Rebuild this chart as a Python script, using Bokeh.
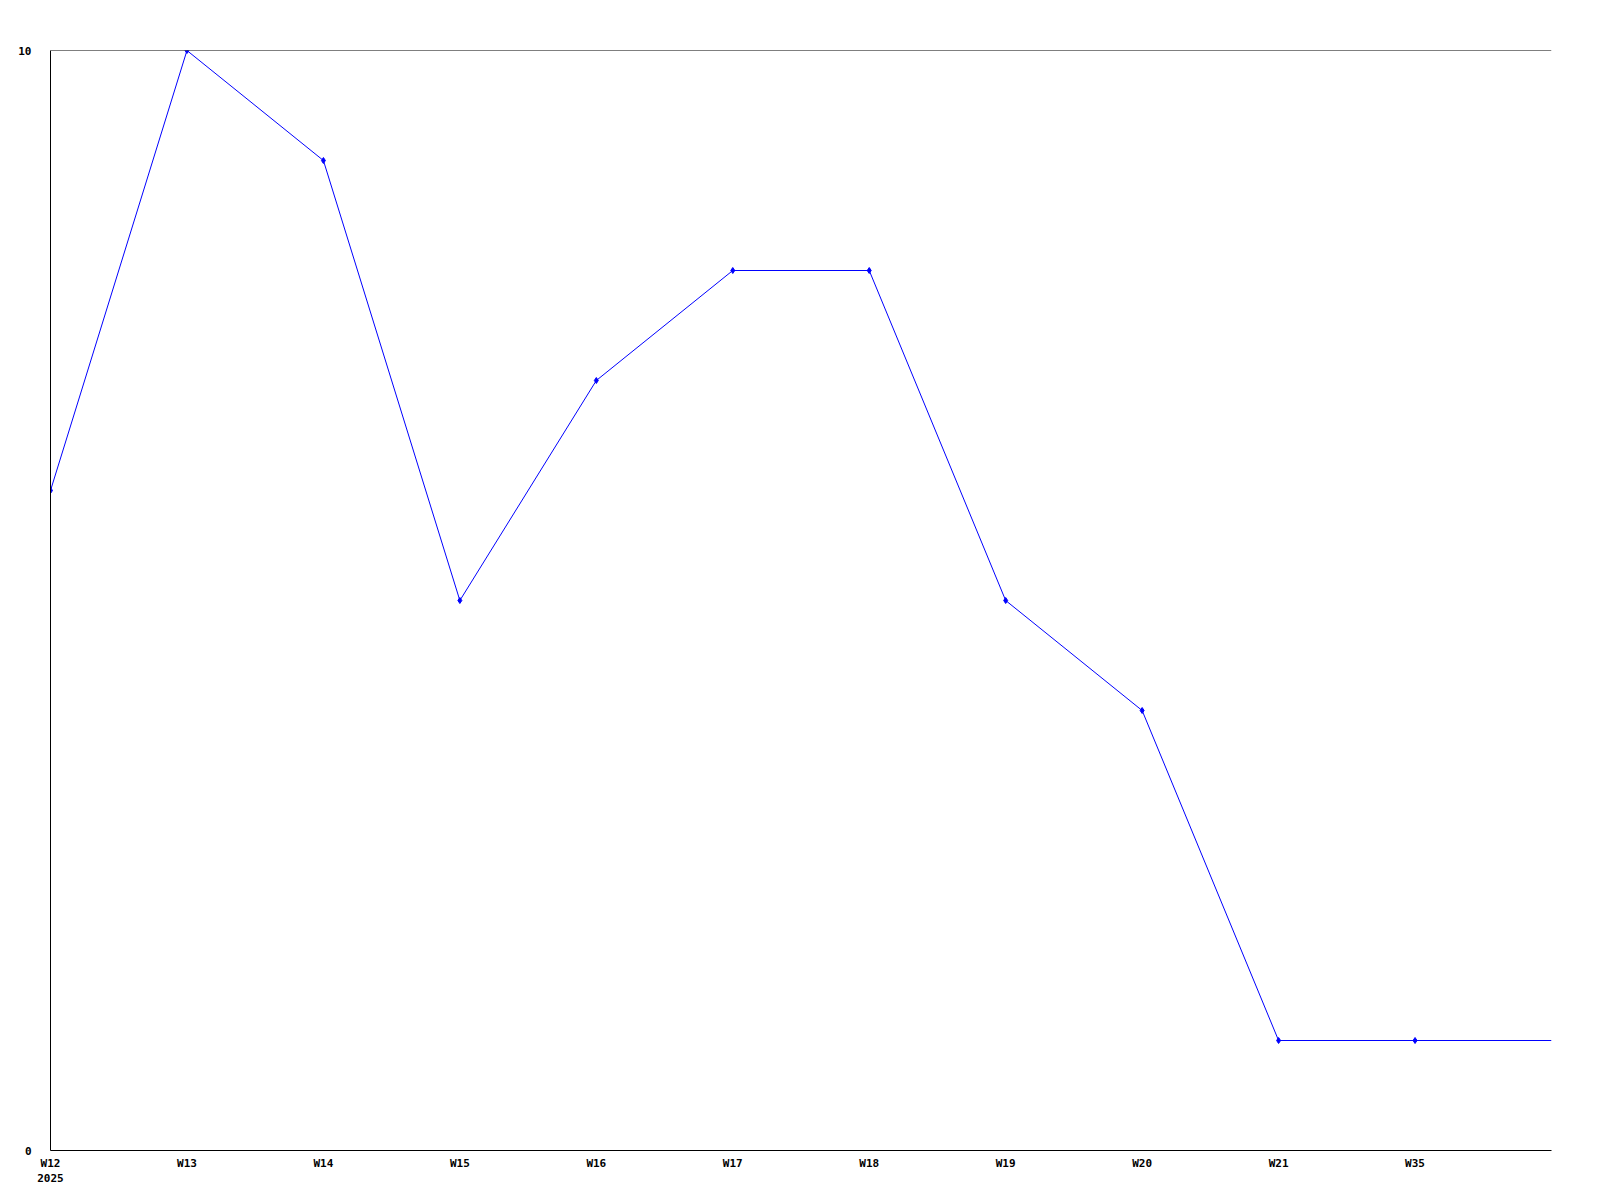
from bokeh.plotting import figure
from bokeh.models import Range1d, Span, FixedTicker
from bokeh.embed import file_html
from bokeh.resources import INLINE

weeks = ["W12\n2025", "W13", "W14", "W15", "W16", "W17", "W18", "W19", "W20", "W21", "W35"]
values = [6, 10, 9, 5, 7, 8, 8, 5, 4, 1, 1]
tail_value = 1  # line continues to the right edge

xs = list(range(len(weeks)))
line_x = xs + [len(weeks)]
line_y = values + [tail_value]

p = figure(width=1584, height=1194, output_backend="svg", toolbar_location=None,
           x_range=Range1d(0, len(weeks)), y_range=Range1d(0, 10),
           min_border_left=50, min_border_top=50, min_border_right=33, min_border_bottom=44)
p.outline_line_color = None
p.grid.visible = False
p.background_fill_color = "white"

p.line(line_x, line_y, line_color="#0000ff", line_width=1)
p.scatter(xs, values, marker="diamond", size=6, color="#0000ff")

p.add_layout(Span(location=10, dimension="width", line_color="black", line_width=1))

font = "DejaVu Sans Mono"
p.xaxis.ticker = FixedTicker(ticks=xs)
p.xaxis.major_label_overrides = {i: w for i, w in zip(xs, weeks)}
p.yaxis.ticker = FixedTicker(ticks=[0, 10])
for ax in (p.xaxis[0], p.yaxis[0]):
    ax.major_tick_line_color = None
    ax.minor_tick_line_color = None
    ax.axis_line_color = "black"
    ax.major_label_text_font = font
    ax.major_label_text_font_style = "bold"
    ax.major_label_text_font_size = "11px"
    ax.major_label_text_color = "black"
p.xaxis.major_label_standoff = 0
p.yaxis.major_label_text_align = "left"
p.yaxis.major_label_standoff = 13

open("out.html", "w").write(file_html(p, INLINE))
